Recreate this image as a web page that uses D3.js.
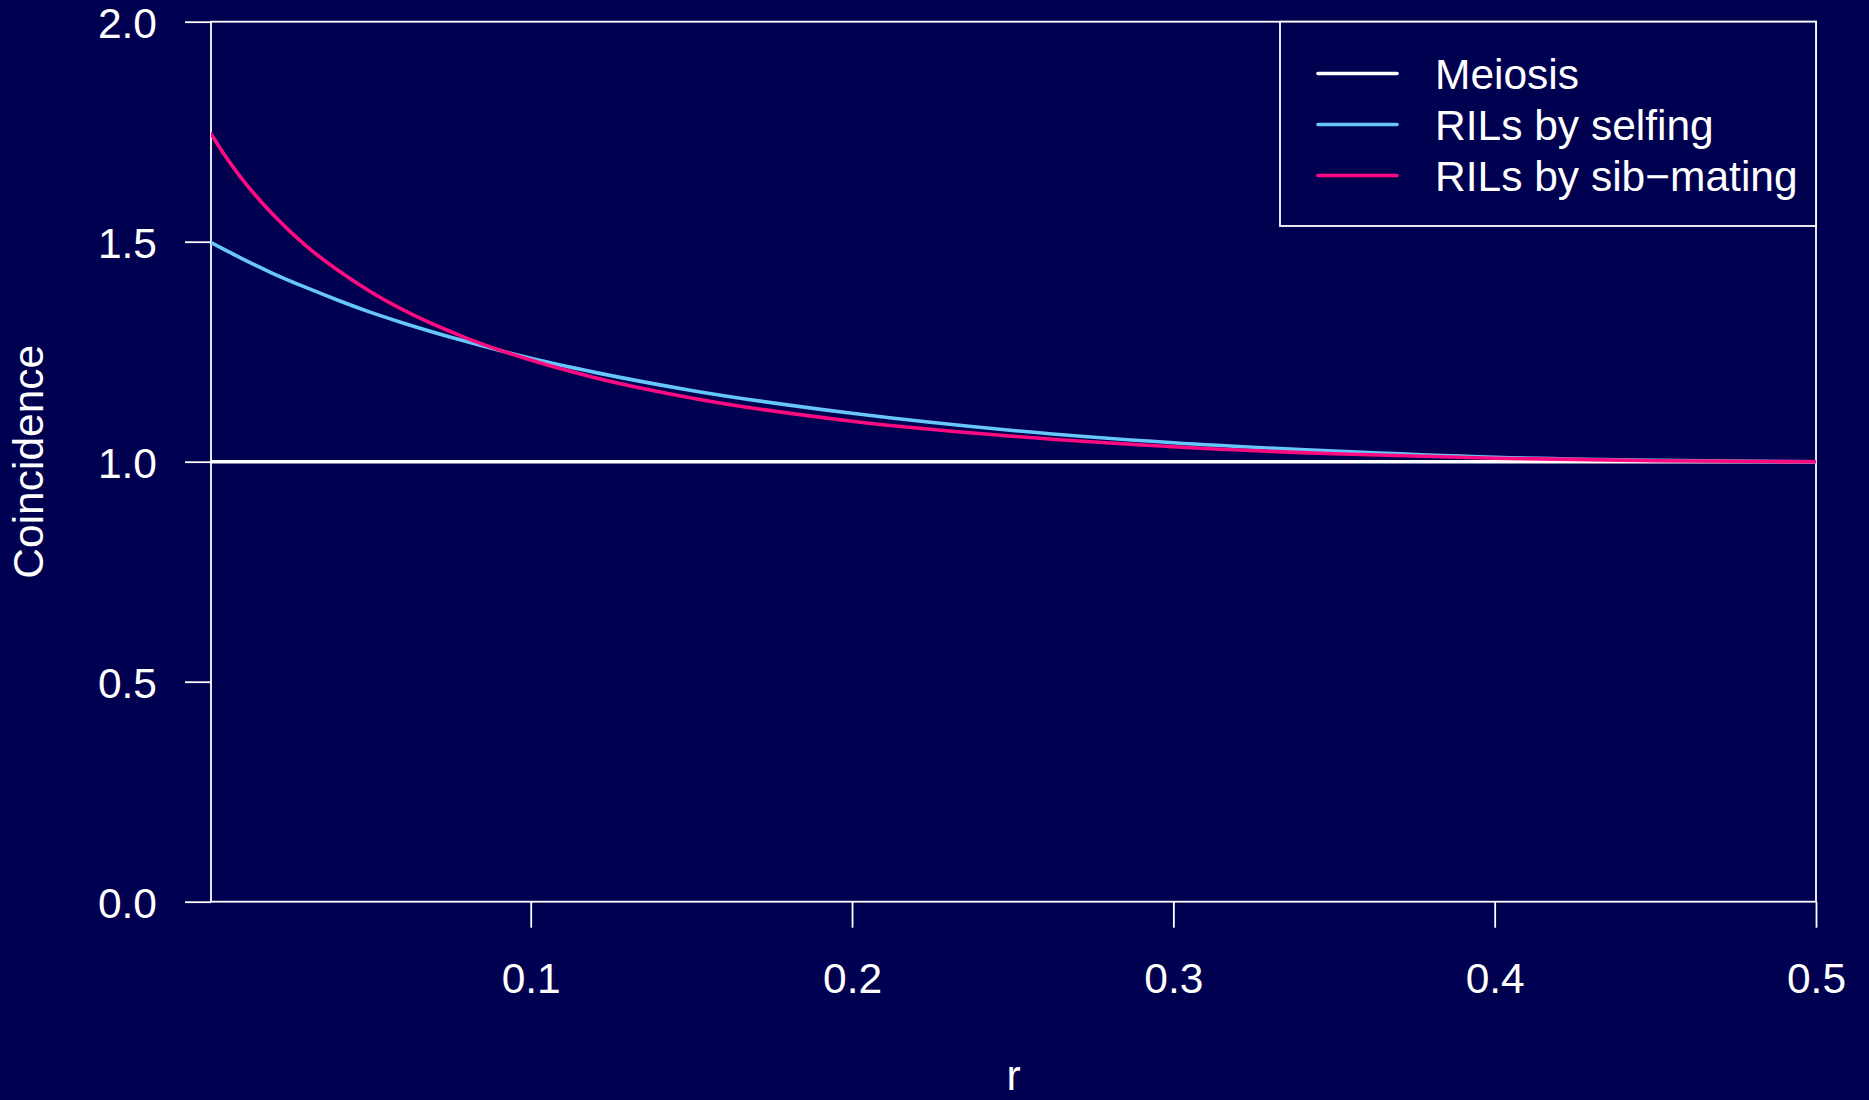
<!DOCTYPE html>
<html>
<head>
<meta charset="utf-8">
<script src="https://cdn.jsdelivr.net/npm/d3@7"></script>
<style>
  html, body { margin: 0; padding: 0; background: #000050; }
  svg { display: block; }
  text { font-family: "Liberation Sans", Arial, Helvetica, sans-serif; fill: #ffffff; }
</style>
</head>
<body>
<script>
// ---- data ----
const rValues   = [0.0005, 0.005, 0.01, 0.02, 0.03, 0.04, 0.05, 0.06, 0.08, 0.10, 0.12, 0.15, 0.20, 0.25, 0.30, 0.35, 0.40, 0.45, 0.50];
const meiosis   = [1, 1, 1, 1, 1, 1, 1, 1, 1, 1, 1, 1, 1, 1, 1, 1, 1, 1, 1];
const selfing   = [1.498, 1.481, 1.462, 1.427, 1.396, 1.367, 1.340, 1.316, 1.273, 1.235, 1.203, 1.162, 1.110, 1.071, 1.043, 1.024, 1.010, 1.003, 1.000];
const sibMating = [1.745, 1.694, 1.644, 1.560, 1.491, 1.435, 1.387, 1.346, 1.281, 1.231, 1.191, 1.145, 1.092, 1.058, 1.034, 1.018, 1.008, 1.002, 1.000];
const xTicks    = [0.1, 0.2, 0.3, 0.4, 0.5];
const yTicks    = [0.0, 0.5, 1.0, 1.5, 2.0];
const seriesNames  = ["Meiosis", "RILs by selfing", "RILs by sib\u2212mating"];
const seriesColors = ["#ffffff", "#66c7f8", "#ff0a80"];
const xLabel = "r";
const yLabel = "Coincidence";

// ---- layout ----
const W = 1869, H = 1100;
const pL = 211, pR = 1816, pT = 21.7, pB = 901.7;
const fontSize = 42.5;

const svg = d3.select("body").append("svg").attr("width", W).attr("height", H);
svg.append("rect").attr("width", W).attr("height", H).attr("fill", "#000050");

const x = d3.scaleLinear().domain([0.0005, 0.5]).range([pL, pR]);
const y = d3.scaleLinear().domain([0, 2]).range([pB, pT]);

// box
svg.append("rect")
  .attr("x", pL).attr("y", pT)
  .attr("width", pR - pL).attr("height", pB - pT)
  .attr("fill", "none").attr("stroke", "#ffffff").attr("stroke-width", 1.8);

// x axis
const xAxis = d3.axisBottom(x).tickValues(xTicks).tickSize(26).tickPadding(0).tickFormat(d3.format(".1f"));
const gx = svg.append("g").attr("transform", `translate(0,${pB})`).call(xAxis);
gx.select(".domain").remove();
gx.selectAll(".tick line").attr("stroke", "#ffffff").attr("stroke-width", 1.8);
gx.selectAll(".tick text")
  .attr("y", 91).attr("dy", null)
  .attr("font-size", fontSize).attr("fill", "#ffffff")
  .style("font-family", "'Liberation Sans', Arial, sans-serif");

// y axis
const yAxis = d3.axisLeft(y).tickValues(yTicks).tickSize(26).tickPadding(0).tickFormat(d3.format(".1f"));
const gy = svg.append("g").attr("transform", `translate(${pL},0)`).call(yAxis);
gy.select(".domain").remove();
gy.selectAll(".tick line").attr("stroke", "#ffffff").attr("stroke-width", 1.8);
gy.selectAll(".tick text")
  .attr("x", -54).attr("dy", "0.36em")
  .attr("font-size", fontSize).attr("fill", "#ffffff")
  .style("font-family", "'Liberation Sans', Arial, sans-serif");

// axis titles
svg.append("text").attr("x", (pL + pR) / 2).attr("y", 1090)
  .attr("text-anchor", "middle").attr("font-size", fontSize).text(xLabel);
svg.append("text")
  .attr("transform", `translate(43,${(pT + pB) / 2}) rotate(-90)`)
  .attr("text-anchor", "middle").attr("font-size", fontSize).text(yLabel);

// curves
const series = [meiosis, selfing, sibMating];
const line = d3.line().x(d => x(d[0])).y(d => y(d[1])).curve(d3.curveMonotoneX);
const clipId = "plotclip";
svg.append("clipPath").attr("id", clipId).append("rect")
  .attr("x", pL).attr("y", pT).attr("width", pR - pL).attr("height", pB - pT);
series.forEach((vals, i) => {
  svg.append("path")
    .datum(rValues.map((r, j) => [r, vals[j]]))
    .attr("d", line)
    .attr("fill", "none")
    .attr("stroke", seriesColors[i])
    .attr("stroke-width", 3.6)
    .attr("stroke-linecap", "round")
    .attr("clip-path", `url(#${clipId})`);
});

// legend
const legX0 = 1280, legY0 = pT, legX1 = pR, legY1 = 226;
svg.append("rect").attr("x", legX0).attr("y", legY0)
  .attr("width", legX1 - legX0).attr("height", legY1 - legY0)
  .attr("fill", "#000050").attr("stroke", "#ffffff").attr("stroke-width", 1.8);
const rowY = [73.5, 124.5, 175.5];
seriesNames.forEach((name, i) => {
  svg.append("line").attr("x1", 1318).attr("x2", 1397).attr("y1", rowY[i]).attr("y2", rowY[i])
    .attr("stroke", seriesColors[i]).attr("stroke-width", 3.6).attr("stroke-linecap", "round");
  svg.append("text").attr("x", 1435).attr("y", rowY[i]).attr("dy", "0.36em")
    .attr("font-size", fontSize).text(name);
});
</script>
</body>
</html>
